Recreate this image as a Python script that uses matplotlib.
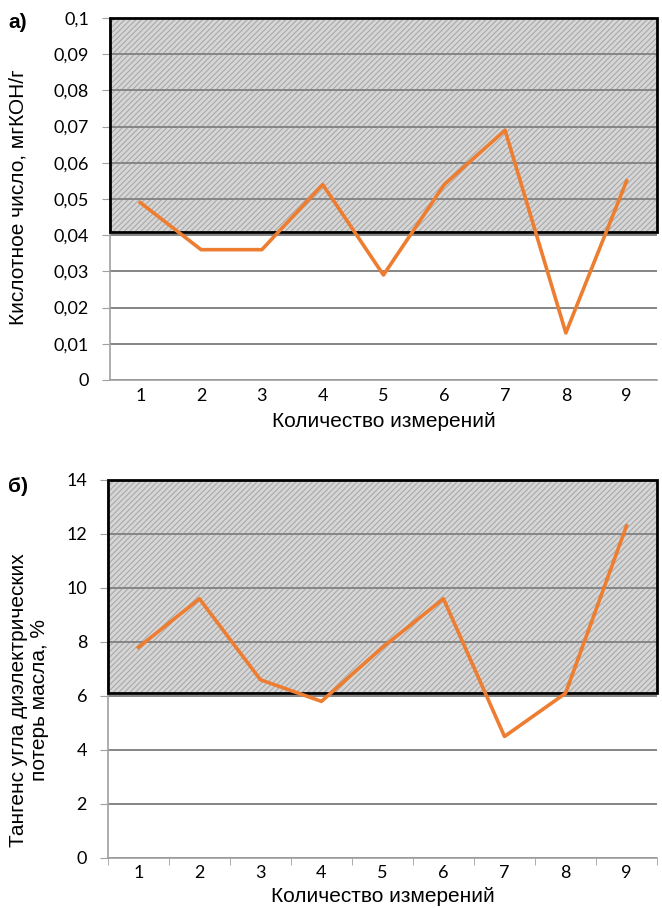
import matplotlib
matplotlib.use("Agg")
import matplotlib.pyplot as plt
from matplotlib.patches import Rectangle

measurements = [1, 2, 3, 4, 5, 6, 7, 8, 9]
acid_number = [0.049, 0.036, 0.036, 0.054, 0.029, 0.054, 0.069, 0.013, 0.055]
tan_delta = [7.8, 9.6, 6.6, 5.8, 7.8, 9.6, 4.5, 6.1, 12.3]

acid_limit = 0.041
acid_max = 0.1
tan_limit = 6.1
tan_max = 14

acid_ticks = [0, 0.01, 0.02, 0.03, 0.04, 0.05, 0.06, 0.07, 0.08, 0.09, 0.1]
acid_tick_labels = ["0", "0,01", "0,02", "0,03", "0,04", "0,05", "0,06", "0,07", "0,08", "0,09", "0,1"]
tan_ticks = [0, 2, 4, 6, 8, 10, 12, 14]
tan_tick_labels = ["0", "2", "4", "6", "8", "10", "12", "14"]

xlabel = "Количество измерений"
ylabel_a = "Кислотное число, мгКОН/г"
ylabel_b = "Тангенс угла диэлектрических\nпотерь масла, %"

plt.rcParams['hatch.linewidth'] = 0.8

fig = plt.figure(figsize=(6.62, 9.08), dpi=100)

tick_font = dict(family=['Lato', 'DejaVu Sans'], size=13)
label_font = dict(family=['Liberation Sans', 'DejaVu Sans'], size=15)

def setup(ax, vals, lim, top, ticks, labels, show_xticks, xlab_y):
    ax.set_xlim(0.5, 9.5)
    ax.set_ylim(0, top)
    ax.set_yticks(ticks)
    ax.set_yticklabels(labels, **tick_font)
    ax.set_xticks(measurements)
    ax.set_xticklabels([str(m) for m in measurements], **tick_font)
    ax.grid(axis='y', color='#858585', linewidth=1.4, zorder=1)
    ax.set_axisbelow(True)
    for s in ['top', 'right']:
        ax.spines[s].set_visible(False)
    for s in ['left', 'bottom']:
        ax.spines[s].set_color('#a0a0a0')
        ax.spines[s].set_linewidth(1.2)
    ax.tick_params(axis='y', length=6, color='#a0a0a0', pad=9)
    if show_xticks:
        ax.set_xticks([x + 0.5 for x in [0] + measurements], minor=True)
        ax.tick_params(axis='x', which='major', length=0, pad=5)
        ax.tick_params(axis='x', which='minor', length=5, color='#a0a0a0')
    else:
        ax.tick_params(axis='x', length=0, pad=6)
    rect = Rectangle((0.5, lim), 9.0, top - lim, facecolor='#d6d6d6',
                     edgecolor='#a9a9a9', hatch='//////', linewidth=0, zorder=0.5)
    ax.add_patch(rect)
    border = Rectangle((0.5, lim), 9.0, top - lim, facecolor='none',
                       edgecolor='black', linewidth=2.0, zorder=3, clip_on=False)
    ax.add_patch(border)
    ax.plot(measurements, vals, color='#ed7d31', linewidth=2.6, zorder=4)
    ax.set_xlabel(xlabel, **label_font)
    ax.xaxis.set_label_coords(0.5, xlab_y)

ax1 = fig.add_axes([0.166, 0.5815, 0.8265, 0.3987])
setup(ax1, acid_number, acid_limit, acid_max, acid_ticks, acid_tick_labels, False, -0.088)
ax2 = fig.add_axes([0.163, 0.0551, 0.8295, 0.4163])
setup(ax2, tan_delta, tan_limit, tan_max, tan_ticks, tan_tick_labels, True, -0.078)

fig.text(18 / 662, 1 - 197 / 908, ylabel_a, rotation=90, ha='center', va='center', **label_font)
fig.text(29 / 662, 1 - 700 / 908, ylabel_b, rotation=90, ha='center', va='center',
         multialignment='center', linespacing=1.1, **label_font)

fig.text(8 / 662, 1 - 22 / 908, "а)", family=['Liberation Sans', 'DejaVu Sans'],
         size=15, weight='bold', va='center', ha='left')
fig.text(8 / 662, 1 - 487 / 908, "б)", family=['Liberation Sans', 'DejaVu Sans'],
         size=15, weight='bold', va='center', ha='left')

fig.savefig("out.png", dpi=100)
